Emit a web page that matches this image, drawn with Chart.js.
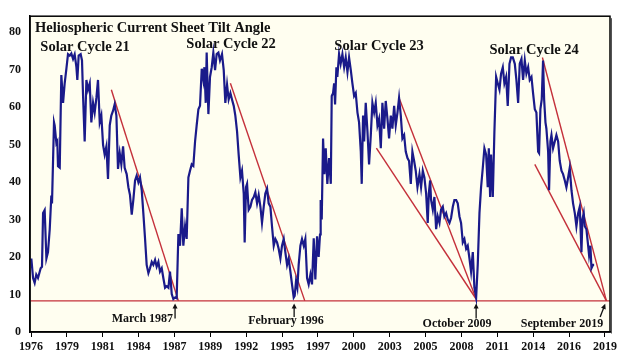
<!DOCTYPE html>
<html>
<head>
<meta charset="utf-8">
<script src="https://cdn.jsdelivr.net/npm/chart.js@4.4.1/dist/chart.umd.min.js"></script>
<style>
  html, body { margin: 0; padding: 0; background: #ffffff; }
  #wrap { width: 624px; height: 358px; }
</style>
</head>
<body>
<div id="wrap"><canvas id="tiltChart"></canvas></div>
<script>
// Heliospheric current sheet tilt angle (degrees)
const tiltDates = [
  1976.40, 1976.53, 1976.65, 1976.77, 1976.90, 1977.10, 1977.20, 1977.28, 1977.40, 1977.53,
  1977.65, 1977.78, 1977.90, 1977.95, 1978.10, 1978.15, 1978.28, 1978.35, 1978.40, 1978.53,
  1978.65, 1978.78, 1978.90, 1979.03, 1979.15, 1979.28, 1979.40, 1979.53, 1979.65, 1979.78,
  1979.85, 1979.95, 1980.10, 1980.20, 1980.28, 1980.40, 1980.53, 1980.65, 1980.78, 1980.90,
  1981.03, 1981.15, 1981.28, 1981.40, 1981.53, 1981.65, 1981.78, 1981.90, 1982.03, 1982.15,
  1982.28, 1982.40, 1982.53, 1982.65, 1982.78, 1982.90, 1983.03, 1983.15, 1983.28, 1983.40,
  1983.55, 1983.68, 1983.80, 1983.93, 1984.05, 1984.18, 1984.30, 1984.43, 1984.55, 1984.68,
  1984.80, 1984.93, 1985.05, 1985.18, 1985.30, 1985.43, 1985.55, 1985.68, 1985.80, 1985.93,
  1986.05, 1986.18, 1986.30, 1986.43, 1986.55, 1986.68, 1986.80, 1986.93, 1987.05, 1987.18,
  1987.30, 1987.38, 1987.43, 1987.55, 1987.68, 1987.80, 1987.93, 1988.05, 1988.18, 1988.30,
  1988.43, 1988.55, 1988.68, 1988.80, 1988.93, 1989.05, 1989.18, 1989.30, 1989.38, 1989.48,
  1989.55, 1989.68, 1989.80, 1989.93, 1990.05, 1990.18, 1990.30, 1990.43, 1990.55, 1990.70,
  1990.83, 1990.95, 1991.08, 1991.20, 1991.33, 1991.45, 1991.58, 1991.70, 1991.83, 1991.95,
  1992.08, 1992.20, 1992.33, 1992.40, 1992.50, 1992.58, 1992.70, 1992.83, 1992.95, 1993.08,
  1993.20, 1993.33, 1993.45, 1993.58, 1993.70, 1993.83, 1993.95, 1994.08, 1994.20, 1994.33,
  1994.45, 1994.58, 1994.70, 1994.83, 1994.95, 1995.08, 1995.20, 1995.33, 1995.45, 1995.58,
  1995.70, 1995.83, 1995.95, 1996.08, 1996.15, 1996.25, 1996.35, 1996.45, 1996.58, 1996.70,
  1996.83, 1996.95, 1997.08, 1997.20, 1997.33, 1997.45, 1997.58, 1997.70, 1997.83, 1997.95,
  1998.05, 1998.10, 1998.18, 1998.28, 1998.38, 1998.48, 1998.60, 1998.73, 1998.86, 1998.93,
  1999.03, 1999.11, 1999.18, 1999.28, 1999.35, 1999.48, 1999.60, 1999.73, 1999.86, 1999.98,
  2000.11, 2000.23, 2000.36, 2000.48, 2000.61, 2000.73, 2000.86, 2000.98, 2001.11, 2001.18,
  2001.28, 2001.36, 2001.48, 2001.61, 2001.73, 2001.86, 2001.98, 2002.11, 2002.23, 2002.36,
  2002.48, 2002.61, 2002.73, 2002.86, 2002.98, 2003.11, 2003.23, 2003.36, 2003.48, 2003.61,
  2003.73, 2003.86, 2003.98, 2004.11, 2004.23, 2004.36, 2004.48, 2004.61, 2004.73, 2004.86,
  2004.98, 2005.11, 2005.23, 2005.36, 2005.51, 2005.63, 2005.76, 2005.88, 2006.01, 2006.13,
  2006.21, 2006.31, 2006.38, 2006.51, 2006.63, 2006.76, 2006.88, 2007.01, 2007.13, 2007.26,
  2007.38, 2007.51, 2007.63, 2007.76, 2007.88, 2008.01, 2008.13, 2008.26, 2008.38, 2008.51,
  2008.63, 2008.76, 2008.88, 2009.01, 2009.13, 2009.26, 2009.38, 2009.51, 2009.63, 2009.76,
  2009.88, 2010.01, 2010.13, 2010.26, 2010.38, 2010.51, 2010.63, 2010.71, 2010.81, 2010.88,
  2011.01, 2011.13, 2011.26, 2011.38, 2011.51, 2011.63, 2011.76, 2011.88, 2012.01, 2012.13,
  2012.26, 2012.38, 2012.51, 2012.66, 2012.78, 2012.91, 2013.03, 2013.16, 2013.28, 2013.41,
  2013.53, 2013.66, 2013.78, 2013.91, 2014.03, 2014.16, 2014.28, 2014.41, 2014.48, 2014.58,
  2014.68, 2014.78, 2014.86, 2014.96, 2015.03, 2015.16, 2015.23, 2015.33, 2015.41, 2015.53,
  2015.66, 2015.78, 2015.91, 2016.03, 2016.16, 2016.28, 2016.41, 2016.53, 2016.66, 2016.78,
  2016.91, 2017.03, 2017.16, 2017.28, 2017.41, 2017.53, 2017.66, 2017.73, 2017.83, 2017.91,
  2018.03, 2018.16, 2018.23, 2018.33, 2018.41, 2018.53, 2018.61
];
const tiltAngles = [
  19.6, 14.4, 13.1, 15.3, 14.4, 17.0, 17.4, 31.7, 32.5, 19.6,
  21.3, 27.4, 36.4, 34.3, 55.9, 55.1, 50.3, 50.8, 44.2, 43.8,
  68.5, 61.1, 66.3, 70.2, 74.1, 73.7, 74.3, 72.8, 74.0, 70.6,
  67.2, 73.7, 74.1, 72.4, 62.9, 50.8, 67.2, 64.6, 66.3, 55.9,
  61.1, 58.5, 62.4, 67.2, 55.9, 57.7, 49.9, 47.3, 49.5, 40.8,
  55.1, 57.7, 59.0, 60.7, 57.7, 43.5, 47.7, 44.7, 49.5, 43.8,
  42.1, 38.6, 36.5, 31.3, 35.2, 40.4, 41.7, 39.9, 41.2, 37.8,
  31.7, 24.8, 17.9, 15.7, 17.0, 18.7, 17.9, 19.2, 17.4, 18.7,
  16.1, 17.0, 14.4, 11.8, 12.2, 11.8, 16.1, 10.1, 8.8, 9.2,
  9.0, 19.6, 26.1, 23.0, 33.0, 23.0, 28.2, 24.8, 41.2, 43.0,
  44.7, 44.3, 50.8, 55.1, 59.4, 60.3, 70.2, 67.2, 70.6, 61.1,
  74.5, 58.1, 68.0, 70.6, 74.5, 69.8, 74.1, 74.5, 72.4, 74.1,
  69.8, 61.1, 65.9, 62.0, 63.7, 62.0, 60.3, 57.7, 53.4, 47.3,
  41.2, 43.0, 36.9, 23.9, 38.6, 39.5, 32.6, 33.4, 35.2, 36.0,
  37.3, 34.3, 36.5, 33.4, 29.1, 33.4, 36.9, 38.2, 34.3, 33.4,
  28.2, 23.0, 24.8, 23.9, 22.2, 19.6, 23.0, 24.8, 21.3, 17.9,
  19.6, 16.1, 12.7, 9.2, 9.6, 13.5, 11.8, 17.9, 23.0, 24.8,
  23.0, 24.8, 14.4, 12.7, 15.3, 12.7, 25.0, 14.0, 25.5, 20.0,
  26.0, 35.2, 30.0, 51.6, 42.1, 49.0, 39.5, 46.4, 39.5, 62.9,
  63.7, 66.3, 60.7, 70.6, 68.0, 74.1, 71.5, 74.1, 70.6, 73.2,
  69.3, 73.2, 69.8, 66.3, 62.9, 63.7, 58.5, 55.9, 48.1, 39.5,
  57.7, 50.8, 61.1, 53.4, 44.7, 52.5, 61.1, 58.5, 61.1, 55.1,
  56.8, 49.0, 61.1, 54.2, 61.6, 56.8, 51.6, 57.7, 54.2, 60.3,
  55.1, 58.5, 62.4, 57.7, 51.6, 52.5, 48.1, 46.4, 45.6, 39.5,
  48.1, 45.6, 43.0, 38.6, 42.1, 38.6, 43.0, 41.2, 36.9, 29.1,
  36.9, 40.4, 35.2, 32.6, 36.0, 27.4, 30.8, 29.1, 32.6, 33.4,
  30.8, 31.7, 30.0, 29.1, 30.4, 33.4, 35.2, 35.2, 34.3, 30.8,
  29.1, 23.9, 24.8, 22.2, 23.0, 19.6, 16.1, 21.3, 11.8, 9.2,
  17.9, 31.7, 38.6, 43.8, 49.0, 47.3, 38.6, 49.0, 36.0, 47.3,
  36.0, 53.4, 68.0, 66.3, 64.6, 68.9, 70.6, 66.3, 68.0, 60.3,
  71.5, 73.2, 73.2, 71.5, 67.2, 61.1, 71.5, 72.8, 67.2, 72.4,
  68.9, 70.6, 67.2, 68.0, 63.7, 59.4, 58.5, 48.1, 47.7, 59.4,
  62.0, 72.4, 62.0, 55.9, 54.2, 48.1, 37.8, 50.8, 52.5, 49.0,
  50.8, 52.5, 50.8, 45.6, 43.0, 42.1, 40.4, 38.6, 41.2, 43.8,
  37.8, 34.3, 31.7, 28.2, 31.7, 33.4, 21.3, 30.0, 31.7, 28.2,
  27.4, 23.0, 20.5, 23.0, 17.0, 17.9, 17.9
];

// Axis
const xRange = [1976.3, 2019.8];
const yRange = [0, 84.2];
const xTickLabels = ['1976', '1979', '1981', '1984', '1987', '1989', '1992', '1995', '1997',
                     '2000', '2003', '2005', '2008', '2011', '2014', '2016', '2019'];
const yTickValues = [0, 10, 20, 30, 40, 50, 60, 70, 80];

// Red trend lines: [startYear, startValue, endYear, endValue]
const minimumLine = [1976.3, 8.3, 2019.8, 8.3];
const trendLines = [
  [1982.40, 64.6, 1987.43, 8.3],
  [1991.33, 66.3, 1996.91, 8.3],
  [2003.98, 62.4, 2009.76, 8.8],
  [2002.28, 49.0, 2009.76, 8.8],
  [2014.73, 73.2, 2019.53, 8.3],
  [2014.16, 44.7, 2019.53, 8.3]
];

// Minimum annotations: text, label year/value, arrow tail and head
const minimumNotes = [
  { text: 'March 1987',     align: 'right',  x: 1987.03, y: 3.4, from: [1987.18, 3.6], to: [1987.18, 7.6] },
  { text: 'February 1996',  align: 'center', x: 1995.50, y: 2.9, from: [1996.11, 4.0], to: [1996.11, 7.6] },
  { text: 'October 2009',   align: 'center', x: 2008.33, y: 2.1, from: [2009.76, 3.6], to: [2009.76, 7.6] },
  { text: 'September 2019', align: 'center', x: 2016.20, y: 2.1, from: [2019.06, 4.0], to: [2019.44, 7.5] }
];
const cycleLabels = ['Solar Cycle 21', 'Solar Cycle 22', 'Solar Cycle 23', 'Solar Cycle 24'];
const cycleLabelX = [1980.43, 1991.38, 2002.48, 2014.11];
const cycleLabelY = [75.8, 76.6, 76.1, 75.1];
const chartTitle = 'Heliospheric Current Sheet Tilt Angle';

const serif = '"Liberation Serif", "DejaVu Serif", serif';
const lineBlue = '#1a1a8a';
const trendRed = '#c4303a';

function segment(l) {
  return [{ x: l[0], y: l[1] }, { x: l[2], y: l[3] }];
}

const datasets = [{
  data: tiltDates.map((d, i) => ({ x: d, y: tiltAngles[i] })),
  borderColor: lineBlue,
  borderWidth: 2.2,
  pointRadius: 0,
  tension: 0
}, {
  data: segment(minimumLine),
  borderColor: trendRed,
  borderWidth: 1.4,
  pointRadius: 0
}].concat(trendLines.map(l => ({
  data: segment(l),
  borderColor: trendRed,
  borderWidth: 1.4,
  pointRadius: 0
})));

const decor = {
  id: 'decor',
  beforeDraw(chart) {
    const { ctx, chartArea: a } = chart;
    ctx.save();
    ctx.fillStyle = '#ffffff';
    ctx.fillRect(0, 0, chart.width, chart.height);
    ctx.fillStyle = '#fffef0';
    ctx.fillRect(a.left, a.top, a.right - a.left, a.bottom - a.top);
    ctx.restore();
  },
  afterDatasetsDraw(chart) {
    const { ctx, chartArea: a, scales: { x, y } } = chart;
    ctx.save();

    // frame, a bit heavier on the right like the original
    ctx.strokeStyle = '#000';
    ctx.lineWidth = 1.5;
    ctx.strokeRect(a.left, a.top, a.right - a.left, a.bottom - a.top);
    ctx.strokeStyle = '#555';
    ctx.lineWidth = 1;
    ctx.beginPath();
    ctx.moveTo(a.right + 1.5, a.top + 2);
    ctx.lineTo(a.right + 1.5, a.bottom + 1.5);
    ctx.stroke();

    ctx.fillStyle = '#111';
    ctx.font = 'bold 14.5px ' + serif;
    ctx.textBaseline = 'middle';
    ctx.textAlign = 'left';
    ctx.fillText(chartTitle, a.left + 5, a.top + 12);

    ctx.textAlign = 'center';
    cycleLabels.forEach((t, i) => {
      ctx.fillText(t, x.getPixelForValue(cycleLabelX[i]), y.getPixelForValue(cycleLabelY[i]));
    });

    ctx.font = 'bold 12px ' + serif;
    minimumNotes.forEach(n => {
      ctx.textAlign = n.align;
      ctx.fillText(n.text, x.getPixelForValue(n.x), y.getPixelForValue(n.y));

      const x0 = x.getPixelForValue(n.from[0]), y0 = y.getPixelForValue(n.from[1]);
      const x1 = x.getPixelForValue(n.to[0]), y1 = y.getPixelForValue(n.to[1]);
      const ang = Math.atan2(y1 - y0, x1 - x0);
      ctx.strokeStyle = '#111';
      ctx.lineWidth = 1.3;
      ctx.beginPath();
      ctx.moveTo(x0, y0);
      ctx.lineTo(x1 - 3 * Math.cos(ang), y1 - 3 * Math.sin(ang));
      ctx.stroke();
      ctx.beginPath();
      ctx.moveTo(x1, y1);
      ctx.lineTo(x1 - 5 * Math.cos(ang) + 2.5 * Math.sin(ang), y1 - 5 * Math.sin(ang) - 2.5 * Math.cos(ang));
      ctx.lineTo(x1 - 5 * Math.cos(ang) - 2.5 * Math.sin(ang), y1 - 5 * Math.sin(ang) + 2.5 * Math.cos(ang));
      ctx.closePath();
      ctx.fill();
    });
    ctx.restore();
  }
};

new Chart(document.getElementById('tiltChart'), {
  type: 'line',
  data: { datasets: datasets },
  options: {
    responsive: true,
    maintainAspectRatio: false,
    animation: false,
    layout: { padding: { top: 8, right: 14, left: 0, bottom: 0 } },
    plugins: {
      legend: { display: false },
      tooltip: { enabled: false }
    },
    scales: {
      x: {
        type: 'linear',
        min: xRange[0],
        max: xRange[1],
        afterBuildTicks: (scale) => {
          const first = xRange[0] + 1 / 13.33;
          const last = xRange[1] - 5 / 13.33;
          const step = (last - first) / (xTickLabels.length - 1);
          scale.ticks = xTickLabels.map((l, i) => ({ value: first + i * step }));
        },
        afterFit: (scale) => { scale.height = 26; },
        ticks: {
          autoSkip: false,
          maxRotation: 0,
          padding: 3,
          color: '#111',
          font: { family: serif, size: 12, weight: 'bold' },
          callback: (v, i) => xTickLabels[i]
        },
        grid: { drawOnChartArea: false, tickLength: 5, color: '#000' },
        border: { color: '#000', width: 1.5 }
      },
      y: {
        min: yRange[0],
        max: yRange[1],
        afterBuildTicks: (scale) => {
          scale.ticks = yTickValues.map(v => ({ value: v }));
        },
        afterFit: (scale) => { scale.width = 30; },
        ticks: {
          padding: 9,
          color: '#111',
          font: { family: serif, size: 12, weight: 'bold' }
        },
        grid: { drawOnChartArea: false, drawTicks: false },
        border: { color: '#000', width: 1.5 }
      }
    }
  },
  plugins: [decor]
});
</script>
</body>
</html>
